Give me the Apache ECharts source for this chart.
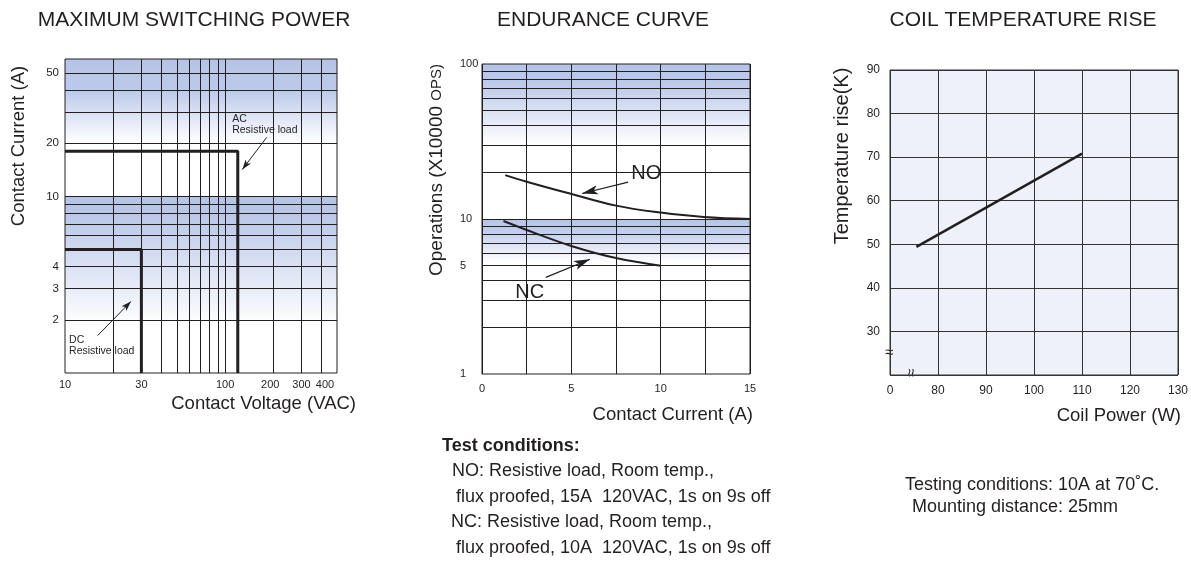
<!DOCTYPE html>
<html>
<head>
<meta charset="utf-8">
<script src="https://cdn.jsdelivr.net/npm/echarts@6/dist/echarts.min.js"></script>
<style>
html,body{margin:0;padding:0;background:#fff;}
#c{width:1191px;height:562px;}
</style>
</head>
<body>
<div id="c"></div>
<script>
// ---------- Chart 1: MAXIMUM SWITCHING POWER ----------
const swVoltGrid = [20, 30, 40, 50, 60, 70, 80, 90, 100, 200, 300, 400];
const swVoltTicks = [10, 30, 100, 200, 300, 400];
const swCurrGrid = [2, 3, 4, 5, 6, 7, 8, 9, 10, 20, 30, 40, 50];
const swCurrTicks = [2, 3, 4, 10, 20, 50];
const acVolt = [10, 120, 120];
const acCurr = [18, 18, 1];
const dcVolt = [10, 30, 30];
const dcCurr = [5, 5, 1];

// ---------- Chart 2: ENDURANCE CURVE ----------
const noCurrent = [1.3, 2.5, 5, 7.5, 10, 12.4, 15];
const noOps = [19.2, 17.4, 14.5, 12.2, 11.0, 10.3, 10.0];
const ncCurrent = [1.2, 2.5, 5, 7.5, 10];
const ncOps = [9.7, 8.5, 6.7, 5.6, 5.0];
const opsGrid = [2, 3, 4, 5, 6, 7, 8, 9, 10, 20, 30, 40, 50, 60, 70, 80, 90];
const opsTicks = [1, 5, 10, 100];

// ---------- Chart 3: COIL TEMPERATURE RISE ----------
const coilPower = [75.5, 110];
const tempRise = [49.4, 70.8];

const FONT = '"Liberation Sans", Arial, Helvetica, sans-serif';
const INK = '#231f20';
const BLUE = '#b5c4e6';

const zip = (xs, ys) => xs.map((x, i) => [x, ys[i]]);
const gridLines = (key, vals, color) => vals.map(v => ({
  [key]: v, lineStyle: { color: color, width: 1, type: 'solid' }, label: { show: false }
}));
const tickLabels = (key, vals, extra, perLabel) => vals.map(v => ({
  [key]: v, lineStyle: { color: 'rgba(0,0,0,0)', width: 1 },
  label: Object.assign({ show: true, position: 'start', formatter: String(v),
    color: INK, fontFamily: FONT, fontSize: 12 }, extra, (perLabel && perLabel(v)) || {})
}));
const grad = stops => ({
  type: 'linear', x: 0, y: 0, x2: 0, y2: 1,
  colorStops: stops.map(s => ({ offset: s[0], color: s[1] }))
});
const arrow = (from, to, size) => [
  { coord: from, symbol: 'none' },
  { coord: to, symbol: 'arrow', symbolSize: size }
];
const note = (coord, text, label) => ({
  coord: coord, symbol: 'circle', symbolSize: 0,
  label: Object.assign({ show: true, formatter: text, color: INK, fontFamily: FONT }, label)
});
const txt = (x, y, text, size, extra) => Object.assign({
  type: 'text', x: x, y: y, silent: true,
  style: Object.assign({ text: text, font: size + 'px ' + FONT, fill: INK,
    align: 'left', verticalAlign: 'middle' }, (extra && extra.style) || {})
}, extra && extra.rotation !== undefined ? { rotation: extra.rotation } : {});

const hidden = { axisLabel: { show: false }, axisLine: { show: false }, axisTick: { show: false }, splitLine: { show: false } };
const titleStyle = { fontSize: 21, fontWeight: 'normal', color: INK, fontFamily: FONT };
// small label nudges so the crowded 200/300/400 labels stay apart like the original
const voltLabelPad = v => (v === 200 ? { padding: [0, 6, 0, 0] } : v === 400 ? { padding: [0, 0, 0, 7] } : {});

const option = {
  animation: false,
  backgroundColor: '#ffffff',
  title: [
    { text: 'MAXIMUM SWITCHING POWER', left: 189, top: 5, textAlign: 'center', textStyle: titleStyle },
    { text: 'ENDURANCE CURVE', left: 598, top: 5, textAlign: 'center', textStyle: titleStyle },
    { text: 'COIL TEMPERATURE RISE', left: 1018, top: 5, textAlign: 'center', textStyle: titleStyle }
  ],
  grid: [
    { left: 65, top: 59, width: 272, height: 314, show: true, z: 3, outerBoundsMode: 'none',
      backgroundColor: 'rgba(0,0,0,0)', borderColor: INK, borderWidth: 1 },
    { left: 482, top: 64, width: 268, height: 310, show: true, z: 3, outerBoundsMode: 'none',
      backgroundColor: 'rgba(0,0,0,0)', borderColor: INK, borderWidth: 1 },
    { left: 890, top: 70, width: 288, height: 305, show: true, z: 0, outerBoundsMode: 'none',
      backgroundColor: '#eef1f9', borderColor: '#333333', borderWidth: 1 }
  ],
  xAxis: [
    Object.assign({ type: 'log', logBase: 10, min: 10, max: 500, gridIndex: 0 }, hidden),
    { type: 'value', min: 0, max: 15, interval: 2.5, gridIndex: 1, z: 3,
      axisLine: { show: false }, axisTick: { show: false },
      splitLine: { show: true, lineStyle: { color: INK, width: 1 } },
      axisLabel: { color: INK, fontFamily: FONT, fontSize: 11, margin: 9,
        formatter: v => (v % 5 === 0 ? String(v) : '') } },
    { type: 'value', min: 70, max: 130, interval: 10, gridIndex: 2,
      axisLine: { show: false }, axisTick: { show: false },
      splitLine: { show: true, lineStyle: { color: '#333333', width: 1 } },
      axisLabel: { color: INK, fontFamily: FONT, fontSize: 12, margin: 10,
        formatter: v => (v === 70 ? '0' : String(v)) } }
  ],
  yAxis: [
    Object.assign({ type: 'log', logBase: 10, min: 1, max: 60, gridIndex: 0 }, hidden),
    Object.assign({ type: 'log', logBase: 10, min: 1, max: 100, gridIndex: 1 }, hidden),
    { type: 'value', min: 20, max: 90, interval: 10, gridIndex: 2,
      axisLine: { show: false }, axisTick: { show: false },
      splitLine: { show: true, lineStyle: { color: '#333333', width: 1 } },
      axisLabel: { color: INK, fontFamily: FONT, fontSize: 12, margin: 10,
        formatter: v => (v === 20 ? '' : String(v)) } }
  ],
  series: [
    // ---- chart 1 background: bands, grid lines, tick labels
    { type: 'line', name: 'grid1', xAxisIndex: 0, yAxisIndex: 0, data: [], z: 1, silent: true,
      markArea: { silent: true, data: [
        [{ yAxis: 20, itemStyle: { opacity: 1, color: grad([[0, BLUE], [0.37, '#bccaea'], [1, '#ffffff']]) } }, { yAxis: 60 }],
        [{ yAxis: 2, itemStyle: { opacity: 1, color: grad([[0, BLUE], [0.15, '#bac8e8'], [1, '#fbfcfe']]) } }, { yAxis: 10 }]
      ] },
      markLine: { silent: true, symbol: 'none', animation: false,
        data: [].concat(
          gridLines('xAxis', swVoltGrid, INK),
          gridLines('yAxis', swCurrGrid, INK),
          tickLabels('xAxis', swVoltTicks, { distance: 6, fontSize: 11 }, voltLabelPad),
          tickLabels('yAxis', swCurrTicks, { distance: 6, fontSize: 11.5 })
        ) } },
    { type: 'line', name: 'AC Resistive load', xAxisIndex: 0, yAxisIndex: 0, z: 4,
      data: zip(acVolt, acCurr), symbol: 'none', lineStyle: { color: INK, width: 3 } },
    { type: 'line', name: 'DC Resistive load', xAxisIndex: 0, yAxisIndex: 0, z: 4,
      data: zip(dcVolt, dcCurr), symbol: 'none', lineStyle: { color: INK, width: 3 } },
    { type: 'line', name: 'notes1', xAxisIndex: 0, yAxisIndex: 0, data: [], z: 6, silent: true,
      markLine: { silent: true, lineStyle: { color: INK, width: 1, type: 'solid' }, label: { show: false },
        data: [arrow([182, 21.6], [128, 14.2], [5, 10]), arrow([16, 1.63], [25.8, 2.54], [5, 10])] },
      markPoint: { silent: true, data: [
        note([110.7, 25.6], 'AC\nResistive load', { position: 'right', distance: 0, fontSize: 10.5, lineHeight: 11 }),
        note([10.6, 1.43], 'DC\nResistive load', { position: 'right', distance: 0, fontSize: 10.5, lineHeight: 11 })
      ] } },

    // ---- chart 2 background
    { type: 'line', name: 'grid2', xAxisIndex: 1, yAxisIndex: 1, data: [], z: 1, silent: true,
      markArea: { silent: true, data: [
        [{ yAxis: 30, itemStyle: { opacity: 1, color: grad([[0, BLUE], [0.25, '#bdcaea'], [1, '#ffffff']]) } }, { yAxis: 100 }],
        [{ yAxis: 5, itemStyle: { opacity: 1, color: grad([[0, BLUE], [0.3, '#c3cfec'], [0.92, '#ffffff']]) } }, { yAxis: 10 }]
      ] },
      markLine: { silent: true, symbol: 'none', animation: false,
        data: [].concat(
          gridLines('yAxis', opsGrid, INK),
          tickLabels('yAxis', opsTicks, { distance: 22, align: 'left', fontSize: 11 })
        ) } },
    { type: 'line', name: 'NO', xAxisIndex: 1, yAxisIndex: 1, z: 4, smooth: 0.4,
      data: zip(noCurrent, noOps), symbol: 'none', lineStyle: { color: INK, width: 2 } },
    { type: 'line', name: 'NC', xAxisIndex: 1, yAxisIndex: 1, z: 4, smooth: 0.4,
      data: zip(ncCurrent, ncOps), symbol: 'none', lineStyle: { color: INK, width: 2 } },
    { type: 'line', name: 'notes2', xAxisIndex: 1, yAxisIndex: 1, data: [], z: 6, silent: true,
      markLine: { silent: true, lineStyle: { color: INK, width: 1.2, type: 'solid' }, label: { show: false },
        data: [arrow([8.18, 17.3], [5.6, 14.6], [7, 16]), arrow([3.57, 4.2], [6.04, 5.5], [7, 16])] },
      markPoint: { silent: true, data: [
        note([9.2, 19.7], 'NO', { position: 'inside', fontSize: 20 }),
        note([2.67, 3.35], 'NC', { position: 'inside', fontSize: 20 })
      ] } },

    // ---- chart 3
    { type: 'line', name: 'Temperature rise', xAxisIndex: 2, yAxisIndex: 2, z: 4,
      data: zip(coilPower, tempRise), symbol: 'none', lineStyle: { color: INK, width: 2.5 } }
  ],
  graphic: [
    txt(19, 146, 'Contact Current (A)', 18.5, { rotation: Math.PI / 2, style: { align: 'center' } }),
    txt(356, 404, 'Contact Voltage (VAC)', 18.5, { style: { align: 'right' } }),
    { type: 'text', x: 437, y: 170, rotation: Math.PI / 2, silent: true,
      style: { text: '{a|Operations (X10000 }{b|OPS)}', align: 'center', verticalAlign: 'middle',
        rich: { a: { fontSize: 19, fontFamily: FONT, fill: INK, color: INK },
                b: { fontSize: 15, fontFamily: FONT, fill: INK, color: INK } } } },
    txt(753, 415, 'Contact Current (A)', 18.5, { style: { align: 'right' } }),
    txt(842, 156, 'Temperature rise(K)', 20, { rotation: Math.PI / 2, style: { align: 'center' } }),
    txt(1181, 416, 'Coil Power (W)', 18.5, { style: { align: 'right' } }),
    txt(442, 446, 'Test conditions:', 18, { style: { font: 'bold 18px ' + FONT } }),
    txt(452, 471, 'NO: Resistive load, Room temp.,', 18),
    txt(456, 497, 'flux proofed, 15A  120VAC, 1s on 9s off', 18),
    txt(451, 522, 'NC: Resistive load, Room temp.,', 18),
    txt(456, 548, 'flux proofed, 10A  120VAC, 1s on 9s off', 18),
    txt(905, 485, 'Testing conditions: 10A at 70\u02DAC.', 18),
    txt(912, 507, 'Mounting distance: 25mm', 18),
    txt(889, 353, '\u2248', 15, { style: { align: 'center' } }),
    txt(912, 373, '\u2248', 15, { rotation: Math.PI / 2, style: { align: 'center' } })
  ]
};

const chart = echarts.init(document.getElementById('c'), null, { renderer: 'canvas' });
chart.setOption(option);
</script>
</body>
</html>
